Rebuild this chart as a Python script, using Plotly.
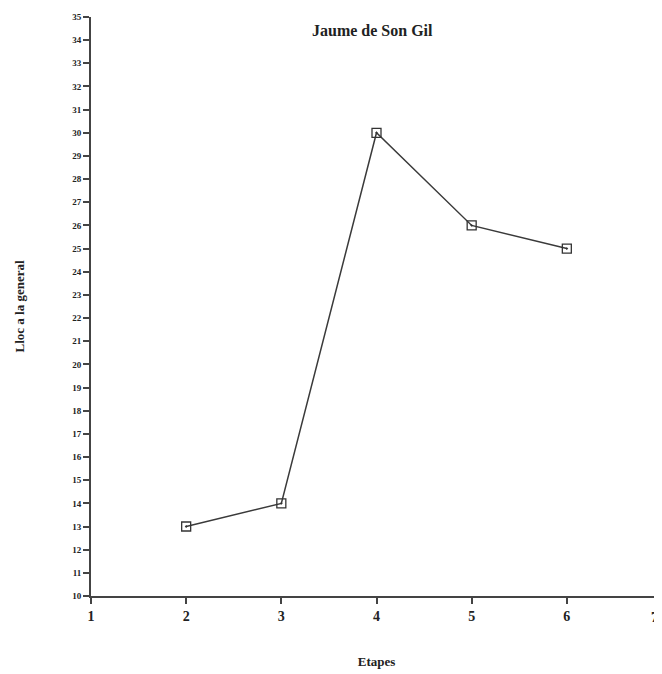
import plotly.graph_objects as go

etapes = [2, 3, 4, 5, 6]
lloc = [13, 14, 30, 26, 25]
x_ticks = [1, 2, 3, 4, 5, 6, 7]
y_ticks = list(range(10, 36))

serif = "Liberation Serif"
fig = go.Figure()
fig.add_trace(go.Scatter(
    x=etapes, y=lloc, mode="lines+markers",
    line=dict(color="#3a3a3a", width=1.5),
    marker=dict(symbol="square-open-dot", size=9, color="#333333", line=dict(width=1.3)),
    showlegend=False,
))
fig.update_layout(
    width=654, height=666,
    margin=dict(l=83, r=0, t=9, b=78),
    paper_bgcolor="white", plot_bgcolor="white",
    font=dict(family=serif, color="#222222"),
    title=dict(text="<b>Jaume de Son Gil</b>", x=0.557, xanchor="center", y=0.967, yanchor="middle",
               font=dict(family=serif, size=16, color="#222222")),
)
# last tick label sits on the page edge; anchor it to the right so it stays visible
fig.add_annotation(x=x_ticks[-1], xref="x", xanchor="right", xshift=-2, y=0, yref="paper",
                   yanchor="middle", yshift=-21,
                   text=f"<b>{x_ticks[-1]}</b>", showarrow=False,
                   font=dict(family=serif, size=14, color="#222222"))
fig.update_xaxes(
    range=[1, 7], tickvals=x_ticks, ticktext=[f"<b>{v}</b>" for v in x_ticks],
    showgrid=False, zeroline=False, showline=True, linecolor="#444444", linewidth=2,
    ticks="outside", ticklen=6, tickwidth=1.5, tickcolor="#444444",
    tickfont=dict(family=serif, size=14, color="#222222"),
    title=dict(text="<b>Etapes</b>", font=dict(family=serif, size=13, color="#222222"), standoff=34),
)
fig.update_yaxes(
    range=[10, 35], tickvals=y_ticks, ticktext=[f"<b>{v}</b>" for v in y_ticks],
    showgrid=False, zeroline=False, showline=True, linecolor="#444444", linewidth=2,
    ticks="outside", ticklen=6, tickwidth=1.5, tickcolor="#444444",
    tickfont=dict(family=serif, size=9, color="#222222"),
    title=dict(text="<b>Lloc a la general</b>", font=dict(family=serif, size=13, color="#222222"), standoff=45),
)
fig.write_html("out.html")
